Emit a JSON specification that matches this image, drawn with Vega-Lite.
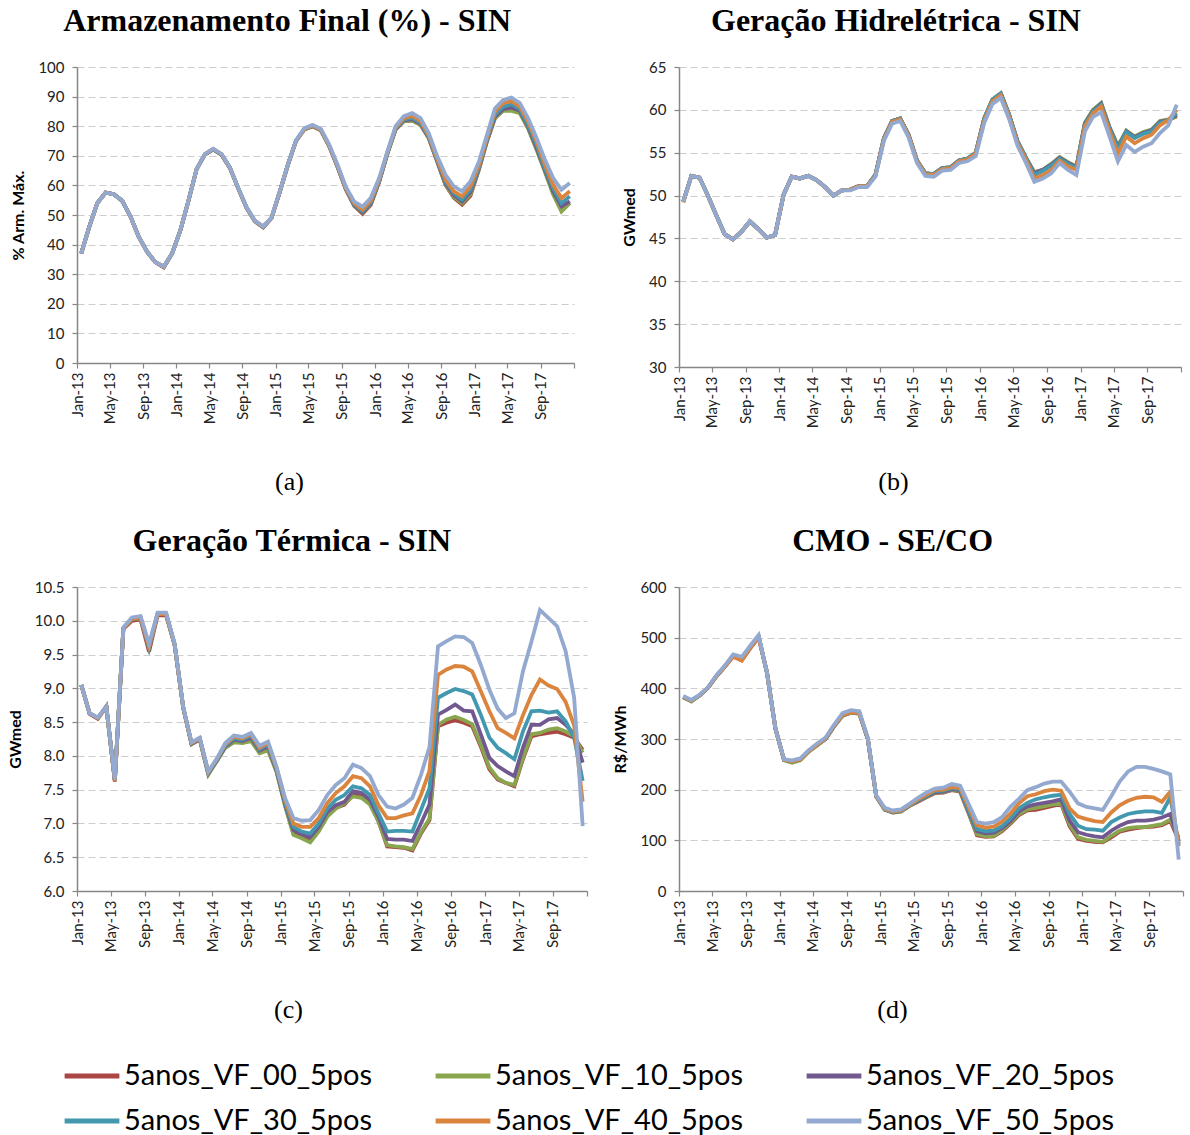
{
"$schema": "https://vega.github.io/schema/vega-lite/v6.json",
"background": "white",
"padding": {"left": 7, "top": 5, "right": 5, "bottom": 5},
"bounds": "flush",
"columns": 2,
"spacing": {"row": 220, "column": 92},
"datasets": {
"a": [
{"d":"2013-01-01","v00":37,"v10":37,"v20":37,"v30":37,"v40":37,"v50":37},
{"d":"2013-02-01","v00":46,"v10":46,"v20":46,"v30":46,"v40":46,"v50":46},
{"d":"2013-03-01","v00":54,"v10":54,"v20":54,"v30":54,"v40":54,"v50":54},
{"d":"2013-04-01","v00":57.6,"v10":57.6,"v20":57.6,"v30":57.6,"v40":57.6,"v50":57.6},
{"d":"2013-05-01","v00":57,"v10":57,"v20":57,"v30":57,"v40":57,"v50":57},
{"d":"2013-06-01","v00":54.8,"v10":54.8,"v20":54.8,"v30":54.8,"v40":54.8,"v50":54.8},
{"d":"2013-07-01","v00":49.5,"v10":49.5,"v20":49.5,"v30":49.5,"v40":49.5,"v50":49.5},
{"d":"2013-08-01","v00":42.5,"v10":42.5,"v20":42.5,"v30":42.5,"v40":42.5,"v50":42.5},
{"d":"2013-09-01","v00":37.5,"v10":37.5,"v20":37.5,"v30":37.5,"v40":37.5,"v50":37.5},
{"d":"2013-10-01","v00":34,"v10":34,"v20":34,"v30":34,"v40":34,"v50":34},
{"d":"2013-11-01","v00":32.3,"v10":32.5,"v20":32.5,"v30":32.5,"v40":32.5,"v50":32.6},
{"d":"2013-12-01","v00":37,"v10":37,"v20":37,"v30":37,"v40":37,"v50":37},
{"d":"2014-01-01","v00":45,"v10":45,"v20":45,"v30":45,"v40":45,"v50":45},
{"d":"2014-02-01","v00":55,"v10":55,"v20":55,"v30":55,"v40":55,"v50":55},
{"d":"2014-03-01","v00":65.5,"v10":65.5,"v20":65.5,"v30":65.5,"v40":65.5,"v50":65.5},
{"d":"2014-04-01","v00":70.5,"v10":70.5,"v20":70.5,"v30":70.5,"v40":70.5,"v50":70.6},
{"d":"2014-05-01","v00":72.2,"v10":72.2,"v20":72.2,"v30":72.2,"v40":72.3,"v50":72.4},
{"d":"2014-06-01","v00":70.4,"v10":70.4,"v20":70.4,"v30":70.5,"v40":70.5,"v50":70.6},
{"d":"2014-07-01","v00":66,"v10":66,"v20":66,"v30":66,"v40":66,"v50":66.1},
{"d":"2014-08-01","v00":59,"v10":59,"v20":59,"v30":59,"v40":59,"v50":59.1},
{"d":"2014-09-01","v00":52.4,"v10":52.4,"v20":52.4,"v30":52.5,"v40":52.5,"v50":52.6},
{"d":"2014-10-01","v00":47.9,"v10":47.9,"v20":47.9,"v30":48,"v40":48,"v50":48.1},
{"d":"2014-11-01","v00":45.9,"v10":45.9,"v20":45.9,"v30":46,"v40":46,"v50":46.1},
{"d":"2014-12-01","v00":49,"v10":49,"v20":49,"v30":49,"v40":49,"v50":49.1},
{"d":"2015-01-01","v00":58,"v10":58,"v20":58,"v30":58,"v40":58,"v50":58.1},
{"d":"2015-02-01","v00":67,"v10":67,"v20":67,"v30":67,"v40":67,"v50":67.1},
{"d":"2015-03-01","v00":75,"v10":75,"v20":75,"v30":75,"v40":75,"v50":75.2},
{"d":"2015-04-01","v00":78.9,"v10":78.9,"v20":79,"v30":79,"v40":79,"v50":79.3},
{"d":"2015-05-01","v00":80,"v10":80,"v20":80.1,"v30":80.1,"v40":80.2,"v50":80.5},
{"d":"2015-06-01","v00":78.6,"v10":78.6,"v20":78.7,"v30":78.7,"v40":78.8,"v50":79.1},
{"d":"2015-07-01","v00":73.3,"v10":73.3,"v20":73.4,"v30":73.4,"v40":73.5,"v50":73.8},
{"d":"2015-08-01","v00":66.2,"v10":66.3,"v20":66.3,"v30":66.4,"v40":66.5,"v50":66.9},
{"d":"2015-09-01","v00":58.5,"v10":58.7,"v20":58.8,"v30":58.9,"v40":59,"v50":59.5},
{"d":"2015-10-01","v00":53.1,"v10":53.3,"v20":53.4,"v30":53.6,"v40":54,"v50":54.5},
{"d":"2015-11-01","v00":50.4,"v10":50.8,"v20":51,"v30":51.3,"v40":51.8,"v50":52.8},
{"d":"2015-12-01","v00":53.5,"v10":53.8,"v20":54,"v30":54.3,"v40":54.8,"v50":55.8},
{"d":"2016-01-01","v00":61.3,"v10":61.4,"v20":61.5,"v30":61.7,"v40":62,"v50":62.6},
{"d":"2016-02-01","v00":70.8,"v10":70.8,"v20":70.9,"v30":71,"v40":71.2,"v50":71.5},
{"d":"2016-03-01","v00":78.9,"v10":78.9,"v20":79,"v30":79.2,"v40":79.5,"v50":80},
{"d":"2016-04-01","v00":81.7,"v10":81.7,"v20":82,"v30":82.3,"v40":82.7,"v50":83.4},
{"d":"2016-05-01","v00":81.9,"v10":81.9,"v20":82.4,"v30":82.8,"v40":83.5,"v50":84.4},
{"d":"2016-06-01","v00":80.5,"v10":80.5,"v20":80.9,"v30":81.2,"v40":81.8,"v50":82.7},
{"d":"2016-07-01","v00":76,"v10":76,"v20":76.2,"v30":76.4,"v40":76.8,"v50":77.6},
{"d":"2016-08-01","v00":68,"v10":68,"v20":68.3,"v30":68.6,"v40":69,"v50":69.8},
{"d":"2016-09-01","v00":60.2,"v10":60.3,"v20":60.8,"v30":61.3,"v40":62,"v50":63.6},
{"d":"2016-10-01","v00":55.8,"v10":56.2,"v20":56.8,"v30":57.4,"v40":58,"v50":59.7},
{"d":"2016-11-01","v00":53.5,"v10":54,"v20":54.6,"v30":55.2,"v40":56.3,"v50":58},
{"d":"2016-12-01","v00":56.5,"v10":57,"v20":57.8,"v30":58.6,"v40":59.7,"v50":61.3},
{"d":"2017-01-01","v00":65.3,"v10":65.4,"v20":65.8,"v30":66.2,"v40":66.8,"v50":68},
{"d":"2017-02-01","v00":74.8,"v10":74.9,"v20":75.2,"v30":75.6,"v40":76,"v50":77},
{"d":"2017-03-01","v00":82.7,"v10":82.8,"v20":83.2,"v30":83.8,"v40":85,"v50":86},
{"d":"2017-04-01","v00":85.4,"v10":85.2,"v20":85.8,"v30":86.6,"v40":87.8,"v50":88.9},
{"d":"2017-05-01","v00":85.8,"v10":85.2,"v20":86.3,"v30":87.4,"v40":88.5,"v50":89.7},
{"d":"2017-06-01","v00":84.7,"v10":84.4,"v20":85.2,"v30":85.8,"v40":86.6,"v50":87.8},
{"d":"2017-07-01","v00":79.3,"v10":79.3,"v20":79.9,"v30":80.4,"v40":81.6,"v50":82.7},
{"d":"2017-08-01","v00":72.4,"v10":72,"v20":72.8,"v30":73.7,"v40":74.8,"v50":76},
{"d":"2017-09-01","v00":64.9,"v10":64.7,"v20":65.3,"v30":65.8,"v40":67,"v50":68.7},
{"d":"2017-10-01","v00":57.4,"v10":56.9,"v20":58,"v30":59.1,"v40":60.2,"v50":62.5},
{"d":"2017-11-01","v00":52.4,"v10":51.2,"v20":52.9,"v30":54,"v40":55.7,"v50":58.5},
{"d":"2017-12-01","v00":54,"v10":54,"v20":54.6,"v30":56.3,"v40":58,"v50":60.8}
],
"b": [
{"d":"2013-01-01","v00":49.3,"v10":49.3,"v20":49.3,"v30":49.3,"v40":49.2,"v50":49.3},
{"d":"2013-02-01","v00":52.3,"v10":52.3,"v20":52.3,"v30":52.3,"v40":52.3,"v50":52.3},
{"d":"2013-03-01","v00":52.1,"v10":52.1,"v20":52.1,"v30":52.1,"v40":52.1,"v50":52.1},
{"d":"2013-04-01","v00":50,"v10":50,"v20":50,"v30":50,"v40":50,"v50":50},
{"d":"2013-05-01","v00":47.7,"v10":47.7,"v20":47.7,"v30":47.7,"v40":47.7,"v50":47.7},
{"d":"2013-06-01","v00":45.5,"v10":45.5,"v20":45.5,"v30":45.5,"v40":45.5,"v50":45.5},
{"d":"2013-07-01","v00":44.9,"v10":44.9,"v20":44.9,"v30":44.9,"v40":44.9,"v50":44.9},
{"d":"2013-08-01","v00":45.8,"v10":45.8,"v20":45.8,"v30":45.8,"v40":45.8,"v50":45.8},
{"d":"2013-09-01","v00":47,"v10":47,"v20":47,"v30":47,"v40":47,"v50":47},
{"d":"2013-10-01","v00":46.1,"v10":46.1,"v20":46.1,"v30":46.1,"v40":46.1,"v50":46.1},
{"d":"2013-11-01","v00":45.1,"v10":45.1,"v20":45.1,"v30":45.1,"v40":45.1,"v50":45.1},
{"d":"2013-12-01","v00":45.4,"v10":45.4,"v20":45.4,"v30":45.4,"v40":45.4,"v50":45.4},
{"d":"2014-01-01","v00":50.1,"v10":50.1,"v20":50.1,"v30":50.1,"v40":50.1,"v50":50.1},
{"d":"2014-02-01","v00":52.2,"v10":52.2,"v20":52.2,"v30":52.2,"v40":52.2,"v50":52.2},
{"d":"2014-03-01","v00":52,"v10":52,"v20":52,"v30":52,"v40":52,"v50":52},
{"d":"2014-04-01","v00":52.3,"v10":52.3,"v20":52.3,"v30":52.3,"v40":52.3,"v50":52.3},
{"d":"2014-05-01","v00":51.8,"v10":51.8,"v20":51.8,"v30":51.8,"v40":51.8,"v50":51.8},
{"d":"2014-06-01","v00":51,"v10":51,"v20":51,"v30":51,"v40":51,"v50":51},
{"d":"2014-07-01","v00":50,"v10":50,"v20":50,"v30":50,"v40":50,"v50":50},
{"d":"2014-08-01","v00":50.6,"v10":50.6,"v20":50.6,"v30":50.6,"v40":50.6,"v50":50.6},
{"d":"2014-09-01","v00":50.7,"v10":50.7,"v20":50.7,"v30":50.7,"v40":50.7,"v50":50.6},
{"d":"2014-10-01","v00":51.1,"v10":51.1,"v20":51.1,"v30":51.1,"v40":51.1,"v50":51},
{"d":"2014-11-01","v00":51.1,"v10":51.1,"v20":51.1,"v30":51.1,"v40":51.1,"v50":51},
{"d":"2014-12-01","v00":52.4,"v10":52.4,"v20":52.4,"v30":52.4,"v40":52.3,"v50":52.2},
{"d":"2015-01-01","v00":56.7,"v10":56.7,"v20":56.7,"v30":56.7,"v40":56.6,"v50":56.4},
{"d":"2015-02-01","v00":58.7,"v10":58.7,"v20":58.7,"v30":58.7,"v40":58.6,"v50":58.4},
{"d":"2015-03-01","v00":59,"v10":59,"v20":59,"v30":59,"v40":58.9,"v50":58.7},
{"d":"2015-04-01","v00":57.1,"v10":57.1,"v20":57.1,"v30":57.1,"v40":57,"v50":56.8},
{"d":"2015-05-01","v00":54.1,"v10":54.1,"v20":54.1,"v30":54.1,"v40":54,"v50":53.8},
{"d":"2015-06-01","v00":52.6,"v10":52.6,"v20":52.6,"v30":52.6,"v40":52.5,"v50":52.3},
{"d":"2015-07-01","v00":52.5,"v10":52.5,"v20":52.5,"v30":52.5,"v40":52.4,"v50":52.2},
{"d":"2015-08-01","v00":53.2,"v10":53.2,"v20":53.2,"v30":53.2,"v40":53.1,"v50":52.9},
{"d":"2015-09-01","v00":53.3,"v10":53.3,"v20":53.3,"v30":53.3,"v40":53.2,"v50":53},
{"d":"2015-10-01","v00":54.1,"v10":54.1,"v20":54.1,"v30":54.1,"v40":54,"v50":53.8},
{"d":"2015-11-01","v00":54.3,"v10":54.3,"v20":54.3,"v30":54.3,"v40":54.2,"v50":54},
{"d":"2015-12-01","v00":55,"v10":55,"v20":55,"v30":55,"v40":54.9,"v50":54.6},
{"d":"2016-01-01","v00":59,"v10":59,"v20":59,"v30":59,"v40":58.8,"v50":58.5},
{"d":"2016-02-01","v00":61.2,"v10":61.2,"v20":61.2,"v30":61.2,"v40":61,"v50":60.7},
{"d":"2016-03-01","v00":61.9,"v10":61.9,"v20":61.9,"v30":61.9,"v40":61.7,"v50":61.4},
{"d":"2016-04-01","v00":59.4,"v10":59.4,"v20":59.4,"v30":59.4,"v40":59.2,"v50":58.9},
{"d":"2016-05-01","v00":56.3,"v10":56.3,"v20":56.3,"v30":56.3,"v40":56.1,"v50":55.8},
{"d":"2016-06-01","v00":54.4,"v10":54.4,"v20":54.4,"v30":54.4,"v40":54.2,"v50":53.8},
{"d":"2016-07-01","v00":52.7,"v10":52.7,"v20":52.6,"v30":52.4,"v40":52,"v50":51.6},
{"d":"2016-08-01","v00":53,"v10":53,"v20":53,"v30":52.9,"v40":52.4,"v50":52},
{"d":"2016-09-01","v00":53.6,"v10":53.7,"v20":53.6,"v30":53.5,"v40":53,"v50":52.6},
{"d":"2016-10-01","v00":54.4,"v10":54.5,"v20":54.4,"v30":54.3,"v40":54.1,"v50":53.8},
{"d":"2016-11-01","v00":53.8,"v10":53.9,"v20":53.8,"v30":53.7,"v40":53.4,"v50":53},
{"d":"2016-12-01","v00":53.3,"v10":53.4,"v20":53.3,"v30":53.2,"v40":53,"v50":52.4},
{"d":"2017-01-01","v00":58.4,"v10":58.5,"v20":58.4,"v30":58.3,"v40":58.1,"v50":57.5},
{"d":"2017-02-01","v00":59.9,"v10":60,"v20":59.9,"v30":59.8,"v40":59.6,"v50":59.2},
{"d":"2017-03-01","v00":60.7,"v10":60.8,"v20":60.7,"v30":60.6,"v40":60.4,"v50":59.7},
{"d":"2017-04-01","v00":57.9,"v10":58,"v20":57.9,"v30":57.8,"v40":57.5,"v50":56.9},
{"d":"2017-05-01","v00":55.7,"v10":55.8,"v20":55.6,"v30":55.5,"v40":54.9,"v50":54},
{"d":"2017-06-01","v00":57.5,"v10":57.6,"v20":57.5,"v30":57.4,"v40":56.9,"v50":55.9},
{"d":"2017-07-01","v00":56.8,"v10":56.9,"v20":56.8,"v30":56.7,"v40":56.1,"v50":55.1},
{"d":"2017-08-01","v00":57.3,"v10":57.4,"v20":57.3,"v30":57.2,"v40":56.7,"v50":55.7},
{"d":"2017-09-01","v00":57.6,"v10":57.7,"v20":57.6,"v30":57.5,"v40":57.1,"v50":56.1},
{"d":"2017-10-01","v00":58.6,"v10":58.7,"v20":58.6,"v30":58.5,"v40":58.2,"v50":57.3},
{"d":"2017-11-01","v00":58.8,"v10":58.9,"v20":58.8,"v30":58.8,"v40":58.8,"v50":58.2},
{"d":"2017-12-01","v00":59.3,"v10":59.2,"v20":59.4,"v30":59.6,"v40":60,"v50":60.6}
],
"c": [
{"d":"2013-01-01","v00":9.05,"v10":9.05,"v20":9.05,"v30":9.05,"v40":9.05,"v50":9.05},
{"d":"2013-02-01","v00":8.62,"v10":8.63,"v20":8.63,"v30":8.63,"v40":8.63,"v50":8.63},
{"d":"2013-03-01","v00":8.55,"v10":8.56,"v20":8.56,"v30":8.56,"v40":8.56,"v50":8.57},
{"d":"2013-04-01","v00":8.73,"v10":8.73,"v20":8.73,"v30":8.73,"v40":8.73,"v50":8.73},
{"d":"2013-05-01","v00":7.62,"v10":7.63,"v20":7.63,"v30":7.64,"v40":7.63,"v50":7.65},
{"d":"2013-06-01","v00":9.88,"v10":9.89,"v20":9.89,"v30":9.89,"v40":9.89,"v50":9.9},
{"d":"2013-07-01","v00":10.0,"v10":10.02,"v20":10.03,"v30":10.03,"v40":10.03,"v50":10.05},
{"d":"2013-08-01","v00":10.02,"v10":10.04,"v20":10.05,"v30":10.05,"v40":10.05,"v50":10.07},
{"d":"2013-09-01","v00":9.54,"v10":9.6,"v20":9.6,"v30":9.6,"v40":9.62,"v50":9.66},
{"d":"2013-10-01","v00":10.08,"v10":10.1,"v20":10.1,"v30":10.1,"v40":10.1,"v50":10.12},
{"d":"2013-11-01","v00":10.08,"v10":10.1,"v20":10.1,"v30":10.1,"v40":10.1,"v50":10.12},
{"d":"2013-12-01","v00":9.64,"v10":9.65,"v20":9.65,"v30":9.65,"v40":9.65,"v50":9.66},
{"d":"2014-01-01","v00":8.71,"v10":8.71,"v20":8.71,"v30":8.71,"v40":8.71,"v50":8.72},
{"d":"2014-02-01","v00":8.18,"v10":8.17,"v20":8.18,"v30":8.19,"v40":8.19,"v50":8.2},
{"d":"2014-03-01","v00":8.25,"v10":8.24,"v20":8.25,"v30":8.26,"v40":8.26,"v50":8.27},
{"d":"2014-04-01","v00":7.75,"v10":7.72,"v20":7.74,"v30":7.75,"v40":7.76,"v50":7.77},
{"d":"2014-05-01","v00":7.93,"v10":7.92,"v20":7.93,"v30":7.94,"v40":7.95,"v50":7.96},
{"d":"2014-06-01","v00":8.14,"v10":8.12,"v20":8.14,"v30":8.15,"v40":8.17,"v50":8.19},
{"d":"2014-07-01","v00":8.25,"v10":8.2,"v20":8.24,"v30":8.26,"v40":8.28,"v50":8.3},
{"d":"2014-08-01","v00":8.22,"v10":8.19,"v20":8.22,"v30":8.24,"v40":8.26,"v50":8.28},
{"d":"2014-09-01","v00":8.28,"v10":8.22,"v20":8.27,"v30":8.3,"v40":8.32,"v50":8.34},
{"d":"2014-10-01","v00":8.08,"v10":8.04,"v20":8.08,"v30":8.1,"v40":8.12,"v50":8.15},
{"d":"2014-11-01","v00":8.15,"v10":8.08,"v20":8.14,"v30":8.17,"v40":8.19,"v50":8.21},
{"d":"2014-12-01","v00":7.78,"v10":7.76,"v20":7.78,"v30":7.8,"v40":7.82,"v50":7.84},
{"d":"2015-01-01","v00":7.26,"v10":7.25,"v20":7.28,"v30":7.3,"v40":7.34,"v50":7.37},
{"d":"2015-02-01","v00":6.85,"v10":6.83,"v20":6.9,"v30":6.95,"v40":7.0,"v50":7.08},
{"d":"2015-03-01","v00":6.8,"v10":6.78,"v20":6.84,"v30":6.88,"v40":6.95,"v50":7.04},
{"d":"2015-04-01","v00":6.75,"v10":6.72,"v20":6.8,"v30":6.85,"v40":6.95,"v50":7.05},
{"d":"2015-05-01","v00":6.9,"v10":6.88,"v20":6.95,"v30":7.0,"v40":7.08,"v50":7.2},
{"d":"2015-06-01","v00":7.12,"v10":7.1,"v20":7.17,"v30":7.22,"v40":7.3,"v50":7.42},
{"d":"2015-07-01","v00":7.23,"v10":7.22,"v20":7.27,"v30":7.35,"v40":7.45,"v50":7.57},
{"d":"2015-08-01","v00":7.28,"v10":7.3,"v20":7.32,"v30":7.42,"v40":7.55,"v50":7.67},
{"d":"2015-09-01","v00":7.42,"v10":7.4,"v20":7.48,"v30":7.55,"v40":7.7,"v50":7.87},
{"d":"2015-10-01","v00":7.4,"v10":7.38,"v20":7.45,"v30":7.52,"v40":7.67,"v50":7.82},
{"d":"2015-11-01","v00":7.3,"v10":7.28,"v20":7.35,"v30":7.42,"v40":7.55,"v50":7.7},
{"d":"2015-12-01","v00":7.03,"v10":7.03,"v20":7.1,"v30":7.15,"v40":7.27,"v50":7.42},
{"d":"2016-01-01","v00":6.66,"v10":6.68,"v20":6.77,"v30":6.88,"v40":7.08,"v50":7.25},
{"d":"2016-02-01","v00":6.65,"v10":6.66,"v20":6.76,"v30":6.89,"v40":7.08,"v50":7.22},
{"d":"2016-03-01","v00":6.64,"v10":6.65,"v20":6.76,"v30":6.89,"v40":7.12,"v50":7.28},
{"d":"2016-04-01","v00":6.6,"v10":6.62,"v20":6.74,"v30":6.88,"v40":7.15,"v50":7.38},
{"d":"2016-05-01","v00":6.85,"v10":6.87,"v20":7.0,"v30":7.2,"v40":7.42,"v50":7.72},
{"d":"2016-06-01","v00":7.05,"v10":7.07,"v20":7.28,"v30":7.52,"v40":7.78,"v50":8.13},
{"d":"2016-07-01","v00":8.44,"v10":8.46,"v20":8.61,"v30":8.86,"v40":9.2,"v50":9.62},
{"d":"2016-08-01","v00":8.49,"v10":8.54,"v20":8.68,"v30":8.93,"v40":9.28,"v50":9.7},
{"d":"2016-09-01","v00":8.53,"v10":8.58,"v20":8.76,"v30":8.99,"v40":9.33,"v50":9.77},
{"d":"2016-10-01","v00":8.49,"v10":8.53,"v20":8.67,"v30":8.96,"v40":9.32,"v50":9.76},
{"d":"2016-11-01","v00":8.44,"v10":8.47,"v20":8.66,"v30":8.91,"v40":9.25,"v50":9.67},
{"d":"2016-12-01","v00":8.14,"v10":8.17,"v20":8.32,"v30":8.61,"v40":8.96,"v50":9.35},
{"d":"2017-01-01","v00":7.8,"v10":7.83,"v20":7.97,"v30":8.27,"v40":8.66,"v50":8.98},
{"d":"2017-02-01","v00":7.65,"v10":7.67,"v20":7.85,"v30":8.12,"v40":8.41,"v50":8.7},
{"d":"2017-03-01","v00":7.6,"v10":7.6,"v20":7.77,"v30":8.04,"v40":8.34,"v50":8.56},
{"d":"2017-04-01","v00":7.55,"v10":7.57,"v20":7.7,"v30":7.95,"v40":8.26,"v50":8.63},
{"d":"2017-05-01","v00":7.95,"v10":7.97,"v20":8.12,"v30":8.36,"v40":8.6,"v50":9.25},
{"d":"2017-06-01","v00":8.29,"v10":8.32,"v20":8.46,"v30":8.66,"v40":8.9,"v50":9.69},
{"d":"2017-07-01","v00":8.32,"v10":8.34,"v20":8.46,"v30":8.67,"v40":9.13,"v50":10.16},
{"d":"2017-08-01","v00":8.34,"v10":8.39,"v20":8.54,"v30":8.64,"v40":9.04,"v50":10.04},
{"d":"2017-09-01","v00":8.36,"v10":8.41,"v20":8.56,"v30":8.66,"v40":8.99,"v50":9.92},
{"d":"2017-10-01","v00":8.32,"v10":8.36,"v20":8.46,"v30":8.51,"v40":8.8,"v50":9.55},
{"d":"2017-11-01","v00":8.27,"v10":8.29,"v20":8.32,"v30":8.27,"v40":8.45,"v50":8.86},
{"d":"2017-12-01","v00":8.09,"v10":8.05,"v20":7.9,"v30":7.63,"v40":7.32,"v50":6.96}
],
"d": [
{"d":"2013-01-01","v00":383,"v10":382,"v20":383,"v30":383,"v40":383,"v50":385},
{"d":"2013-02-01","v00":376,"v10":374,"v20":376,"v30":376,"v40":376,"v50":377},
{"d":"2013-03-01","v00":386,"v10":386,"v20":386,"v30":386,"v40":386,"v50":387},
{"d":"2013-04-01","v00":401,"v10":401,"v20":401,"v30":401,"v40":401,"v50":402},
{"d":"2013-05-01","v00":424,"v10":424,"v20":424,"v30":424,"v40":424,"v50":426},
{"d":"2013-06-01","v00":443,"v10":443,"v20":443,"v30":443,"v40":443,"v50":445},
{"d":"2013-07-01","v00":463,"v10":465,"v20":465,"v30":465,"v40":463,"v50":467},
{"d":"2013-08-01","v00":455,"v10":458,"v20":458,"v30":458,"v40":455,"v50":462},
{"d":"2013-09-01","v00":479,"v10":481,"v20":481,"v30":481,"v40":480,"v50":484},
{"d":"2013-10-01","v00":500,"v10":502,"v20":502,"v30":502,"v40":501,"v50":505},
{"d":"2013-11-01","v00":430,"v10":430,"v20":430,"v30":430,"v40":432,"v50":430},
{"d":"2013-12-01","v00":320,"v10":320,"v20":320,"v30":320,"v40":320,"v50":320},
{"d":"2014-01-01","v00":259,"v10":258,"v20":259,"v30":259,"v40":259,"v50":260},
{"d":"2014-02-01","v00":256,"v10":253,"v20":256,"v30":256,"v40":256,"v50":258},
{"d":"2014-03-01","v00":260,"v10":258,"v20":260,"v30":260,"v40":260,"v50":262},
{"d":"2014-04-01","v00":276,"v10":275,"v20":276,"v30":276,"v40":276,"v50":278},
{"d":"2014-05-01","v00":288,"v10":287,"v20":288,"v30":288,"v40":288,"v50":291},
{"d":"2014-06-01","v00":300,"v10":300,"v20":300,"v30":300,"v40":301,"v50":303},
{"d":"2014-07-01","v00":325,"v10":325,"v20":325,"v30":325,"v40":326,"v50":328},
{"d":"2014-08-01","v00":346,"v10":346,"v20":347,"v30":347,"v40":347,"v50":351},
{"d":"2014-09-01","v00":352,"v10":352,"v20":353,"v30":353,"v40":353,"v50":357},
{"d":"2014-10-01","v00":350,"v10":350,"v20":351,"v30":351,"v40":351,"v50":355},
{"d":"2014-11-01","v00":300,"v10":300,"v20":300,"v30":300,"v40":301,"v50":302},
{"d":"2014-12-01","v00":187,"v10":187,"v20":187,"v30":188,"v40":188,"v50":189},
{"d":"2015-01-01","v00":161,"v10":160,"v20":161,"v30":161,"v40":162,"v50":164},
{"d":"2015-02-01","v00":155,"v10":155,"v20":156,"v30":156,"v40":157,"v50":159},
{"d":"2015-03-01","v00":157,"v10":157,"v20":158,"v30":158,"v40":159,"v50":161},
{"d":"2015-04-01","v00":168,"v10":168,"v20":169,"v30":169,"v40":170,"v50":172},
{"d":"2015-05-01","v00":176,"v10":177,"v20":178,"v30":179,"v40":181,"v50":184},
{"d":"2015-06-01","v00":185,"v10":186,"v20":187,"v30":188,"v40":190,"v50":194},
{"d":"2015-07-01","v00":193,"v10":194,"v20":195,"v30":197,"v40":199,"v50":202},
{"d":"2015-08-01","v00":194,"v10":195,"v20":196,"v30":198,"v40":200,"v50":204},
{"d":"2015-09-01","v00":199,"v10":200,"v20":201,"v30":203,"v40":205,"v50":211},
{"d":"2015-10-01","v00":196,"v10":197,"v20":199,"v30":201,"v40":203,"v50":208},
{"d":"2015-11-01","v00":154,"v10":155,"v20":158,"v30":160,"v40":166,"v50":172},
{"d":"2015-12-01","v00":110,"v10":112,"v20":118,"v30":122,"v40":130,"v50":136},
{"d":"2016-01-01","v00":107,"v10":108,"v20":114,"v30":118,"v40":125,"v50":133},
{"d":"2016-02-01","v00":108,"v10":109,"v20":115,"v30":119,"v40":127,"v50":136},
{"d":"2016-03-01","v00":118,"v10":120,"v20":124,"v30":128,"v40":137,"v50":146},
{"d":"2016-04-01","v00":133,"v10":135,"v20":138,"v30":143,"v40":153,"v50":166},
{"d":"2016-05-01","v00":150,"v10":152,"v20":157,"v30":163,"v40":173,"v50":182},
{"d":"2016-06-01","v00":159,"v10":161,"v20":167,"v30":174,"v40":187,"v50":199},
{"d":"2016-07-01","v00":160,"v10":164,"v20":171,"v30":181,"v40":191,"v50":205},
{"d":"2016-08-01","v00":164,"v10":167,"v20":174,"v30":185,"v40":197,"v50":212},
{"d":"2016-09-01","v00":168,"v10":171,"v20":177,"v30":188,"v40":200,"v50":216},
{"d":"2016-10-01","v00":172,"v10":174,"v20":181,"v30":190,"v40":198,"v50":216},
{"d":"2016-11-01","v00":128,"v10":132,"v20":139,"v30":152,"v40":163,"v50":196},
{"d":"2016-12-01","v00":103,"v10":106,"v20":116,"v30":129,"v40":147,"v50":173},
{"d":"2017-01-01","v00":99,"v10":101,"v20":111,"v30":122,"v40":142,"v50":166},
{"d":"2017-02-01","v00":97,"v10":99,"v20":108,"v30":121,"v40":138,"v50":163},
{"d":"2017-03-01","v00":96,"v10":97,"v20":106,"v30":119,"v40":136,"v50":160},
{"d":"2017-04-01","v00":106,"v10":109,"v20":119,"v30":136,"v40":155,"v50":187},
{"d":"2017-05-01","v00":117,"v10":119,"v20":129,"v30":145,"v40":169,"v50":216},
{"d":"2017-06-01","v00":121,"v10":124,"v20":136,"v30":152,"v40":178,"v50":236},
{"d":"2017-07-01","v00":124,"v10":126,"v20":139,"v30":155,"v40":184,"v50":245},
{"d":"2017-08-01","v00":126,"v10":126,"v20":139,"v30":157,"v40":186,"v50":245},
{"d":"2017-09-01","v00":127,"v10":129,"v20":141,"v30":157,"v40":185,"v50":241},
{"d":"2017-10-01","v00":130,"v10":132,"v20":145,"v30":154,"v40":176,"v50":236},
{"d":"2017-11-01","v00":138,"v10":141,"v20":152,"v30":185,"v40":196,"v50":230},
{"d":"2017-12-01","v00":100,"v10":106,"v20":98,"v30":92,"v40":88,"v50":62}
]
},
"concat": [
{"width": 497, "height": 296, "title": "Armazenamento Final (%) - SIN", "data": {"name": "a"},
 "transform": [{"fold": ["v00","v10","v20","v30","v40","v50"], "as": ["k","v"]}],
 "mark": {"type": "line", "strokeWidth": 3.8},
 "encoding": {
  "x": {"field": "d", "type": "temporal", "timeUnit": "utcyearmonth", "bandPosition": 0.5, "scale": {"nice": false, "domain": [{"year":2013,"month":1,"date":1,"utc":true},{"year":2018,"month":1,"date":1,"utc":true}]}, "axis": {"title": "(a)", "titleX": 212, "titleY": 118, "labelExpr": "utcyear(datum.value) >= 2018 ? '' : utcFormat(datum.value, '%b-%y')", "tickCount": {"interval": "month", "step": 4}}},
  "y": {"field": "v", "type": "quantitative", "scale": {"domain": [0,100], "nice": false, "zero": false}, "axis": {"title": "% Arm. Máx.", "values": [0,10,20,30,40,50,60,70,80,90,100]}},
  "color": {"field": "k", "type": "nominal", "scale": {"domain": ["v00","v10","v20","v30","v40","v50"], "range": ["#AA4643","#89A54E","#71588F","#4198AF","#DB843D","#93A9CF"]}, "legend": {"title": null, "labelExpr": "'5anos_VF_' + substring(datum.label, 1) + '_5pos'"}}
 }},
{"width": 502, "height": 300, "title": "Geração Hidrelétrica - SIN", "data": {"name": "b"},
 "transform": [{"fold": ["v00","v10","v20","v30","v40","v50"], "as": ["k","v"]}],
 "mark": {"type": "line", "strokeWidth": 3.8},
 "encoding": {
  "x": {"field": "d", "type": "temporal", "timeUnit": "utcyearmonth", "bandPosition": 0.5, "scale": {"nice": false, "domain": [{"year":2013,"month":1,"date":1,"utc":true},{"year":2018,"month":1,"date":1,"utc":true}]}, "axis": {"title": "(b)", "titleX": 214, "titleY": 114, "labelExpr": "utcyear(datum.value) >= 2018 ? '' : utcFormat(datum.value, '%b-%y')", "tickCount": {"interval": "month", "step": 4}}},
  "y": {"field": "v", "type": "quantitative", "scale": {"domain": [30,65], "nice": false, "zero": false}, "axis": {"title": "GWmed", "values": [30,35,40,45,50,55,60,65]}},
  "color": {"field": "k", "type": "nominal", "scale": {"domain": ["v00","v10","v20","v30","v40","v50"], "range": ["#AA4643","#89A54E","#71588F","#4198AF","#DB843D","#93A9CF"]}, "legend": {"title": null, "labelExpr": "'5anos_VF_' + substring(datum.label, 1) + '_5pos'"}}
 }},
{"width": 510, "height": 304, "title": "Geração Térmica - SIN", "data": {"name": "c"},
 "transform": [{"fold": ["v00","v10","v20","v30","v40","v50"], "as": ["k","v"]}],
 "mark": {"type": "line", "strokeWidth": 3.8},
 "encoding": {
  "x": {"field": "d", "type": "temporal", "timeUnit": "utcyearmonth", "bandPosition": 0.5, "scale": {"nice": false, "domain": [{"year":2013,"month":1,"date":1,"utc":true},{"year":2018,"month":1,"date":1,"utc":true}]}, "axis": {"title": "(c)", "titleX": 211, "titleY": 118, "labelExpr": "utcyear(datum.value) >= 2018 ? '' : utcFormat(datum.value, '%b-%y')", "tickCount": {"interval": "month", "step": 4}}},
  "y": {"field": "v", "type": "quantitative", "scale": {"domain": [6,10.5], "nice": false, "zero": false}, "axis": {"title": "GWmed", "format": ".1f", "values": [6,6.5,7,7.5,8,8.5,9,9.5,10,10.5]}},
  "color": {"field": "k", "type": "nominal", "scale": {"domain": ["v00","v10","v20","v30","v40","v50"], "range": ["#AA4643","#89A54E","#71588F","#4198AF","#DB843D","#93A9CF"]}, "legend": {"title": null, "labelExpr": "'5anos_VF_' + substring(datum.label, 1) + '_5pos'"}}
 }},
{"width": 504, "height": 304, "title": "CMO - SE/CO", "data": {"name": "d"},
 "transform": [{"fold": ["v00","v10","v20","v30","v40","v50"], "as": ["k","v"]}],
 "mark": {"type": "line", "strokeWidth": 3.8},
 "encoding": {
  "x": {"field": "d", "type": "temporal", "timeUnit": "utcyearmonth", "bandPosition": 0.5, "scale": {"nice": false, "domain": [{"year":2013,"month":1,"date":1,"utc":true},{"year":2018,"month":1,"date":1,"utc":true}]}, "axis": {"title": "(d)", "titleX": 213, "titleY": 118, "labelExpr": "utcyear(datum.value) >= 2018 ? '' : utcFormat(datum.value, '%b-%y')", "tickCount": {"interval": "month", "step": 4}}},
  "y": {"field": "v", "type": "quantitative", "scale": {"domain": [0,600], "nice": false, "zero": false}, "axis": {"title": "R$/MWh", "values": [0,100,200,300,400,500,600]}},
  "color": {"field": "k", "type": "nominal", "scale": {"domain": ["v00","v10","v20","v30","v40","v50"], "range": ["#AA4643","#89A54E","#71588F","#4198AF","#DB843D","#93A9CF"]}, "legend": {"title": null, "labelExpr": "'5anos_VF_' + substring(datum.label, 1) + '_5pos'"}}
 }}
],
"config": {
 "view": {"stroke": null},
 "font": "Lato",
 "title": {"font": "Liberation Serif", "fontSize": 32, "fontWeight": "bold", "color": "#000000", "anchor": "middle", "frame": "bounds", "offset": 22, "dx": -7},
 "axis": {"labelFont": "Lato", "labelFontSize": 15, "labelColor": "#222222", "titleFont": "Lato", "titleFontSize": 16, "titleFontWeight": "bold", "titleColor": "#000000", "domainColor": "#868686", "domainWidth": 1.5, "tickColor": "#868686", "tickSize": 5, "tickWidth": 1.2},
 "axisX": {"grid": false, "labelAngle": 270, "labelPadding": 4, "titleFont": "Liberation Serif", "titleFontSize": 26, "titleFontWeight": "normal", "titleAngle": 0, "titleAlign": "center", "titleBaseline": "middle"},
 "axisY": {"grid": true, "gridColor": "#CDCDCD", "gridDash": [7, 4], "gridWidth": 1.2, "labelPadding": 8, "titlePadding": 11},
 "legend": {"orient": "none", "legendX": -15, "legendY": 979, "columns": 3, "direction": "horizontal", "symbolType": "stroke", "symbolSize": 3000, "symbolStrokeWidth": 5, "labelFont": "Lato", "labelFontSize": 29, "labelColor": "#000000", "labelLimit": 600, "labelOffset": 2, "columnPadding": 52, "rowPadding": 0}
}
}
